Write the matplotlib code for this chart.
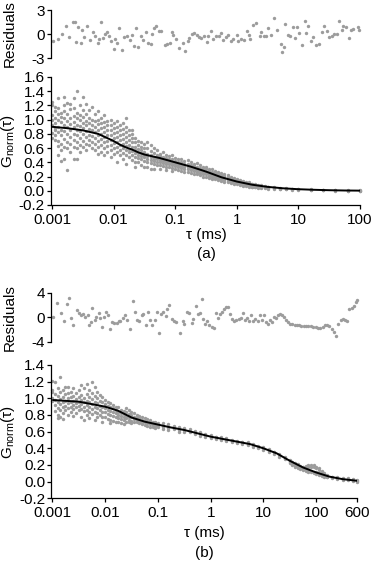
import numpy as np
import matplotlib
matplotlib.use('Agg')
import matplotlib.pyplot as plt

plt.rcParams['font.family'] = ['Liberation Sans', 'DejaVu Sans']
plt.rcParams['mathtext.default'] = 'regular'
plt.rcParams['font.size'] = 11

# ---------------- data: panel (a) ----------------
res_a_logtau = [-2.98, -2.90, -2.83, -2.78, -2.72, -2.66, -2.63, -2.61, -2.57, -2.53,
                -2.51, -2.48, -2.43, -2.38, -2.33, -2.30, -2.26, -2.24, -2.21, -2.18,
                -2.14, -2.10, -2.08, -2.05, -2.00, -1.97, -1.94, -1.92, -1.87, -1.83,
                -1.79, -1.74, -1.70, -1.67, -1.63, -1.60, -1.56, -1.53, -1.48, -1.44,
                -1.40, -1.37, -1.34, -1.31, -1.27, -1.23, -1.17, -1.13, -1.08, -1.05,
                -1.03, -0.98, -0.94, -0.88, -0.84, -0.80, -0.77, -0.73, -0.70, -0.65,
                -0.61, -0.58, -0.54, -0.49, -0.46, -0.42, -0.38, -0.34, -0.29, -0.25,
                -0.22, -0.18, -0.14, -0.10, -0.06, 0.00, 0.02, 0.07, 0.11, 0.16,
                0.19, 0.21, 0.27, 0.31, 0.37, 0.40, 0.44, 0.47, 0.50, 0.56,
                0.60, 0.65, 0.72, 0.74, 0.76, 0.79, 0.83, 0.87, 0.92, 0.94,
                0.97, 1.01, 1.06, 1.10, 1.13, 1.16, 1.20, 1.24, 1.29, 1.33,
                1.38, 1.42, 1.46, 1.50, 1.54, 1.58, 1.63, 1.66, 1.71, 1.73,
                1.78, 1.82, 1.85, 1.89, 1.96, 1.98]
res_a_vals = [-0.83, -0.67, 0.00, 1.04, -0.42, 1.46, 1.46, -0.96, 0.92, -1.08,
              0.46, -0.42, 0.96, -0.75, 0.25, -0.25, -1.10, -0.67, 1.46, -0.54,
              0.00, 0.29, -0.29, -0.88, -1.83, -0.67, -1.08, 0.71, -2.00, -0.38,
              -0.29, -0.75, -0.17, -1.50, 0.71, -1.63, -0.29, -0.75, 0.21, -1.10,
              -1.20, -0.04, 0.79, 1.04, 0.42, 0.38, -1.33, -1.25, -1.08, 0.29,
              -0.13, -0.67, -1.71, -1.17, -2.17, -0.88, -0.46, -0.04, 0.17, -0.17,
              -0.33, -0.54, -0.29, -0.96, -0.29, 0.38, -0.67, -0.25, -0.29, 0.08,
              -0.75, -0.42, -0.13, -0.88, -0.63, -0.08, -0.83, -0.67, -0.75, 0.33,
              -0.17, -0.63, 1.17, 1.33, -0.29, 0.29, -0.29, -0.29, 0.79, -0.13,
              2.04, 0.46, -1.25, -2.25, -1.63, 1.29, -0.17, -0.29, 0.92, -0.46,
              0.92, 0.17, -1.38, 1.63, 0.17, 1.00, -0.83, -0.38, -1.38, -1.25,
              0.21, 1.04, 0.33, -0.33, -0.29, -0.04, 0.04, 1.67, 0.46, 1.04,
              0.92, -0.54, 0.46, 0.63, 0.92, 0.46]

a_obs_logtau = [-3.00, -2.95, -2.90, -2.85, -2.80, -2.75, -2.70, -2.65, -2.60, -2.55,
                -2.50, -2.45, -2.40, -2.35, -2.30, -2.25, -2.20, -2.15, -2.10, -2.05,
                -2.00, -1.95, -1.90, -1.85, -1.80, -1.75, -1.70, -1.65, -1.60, -1.55,
                -1.50, -1.45, -1.40, -1.35, -1.30, -1.25, -1.20, -1.15, -1.10, -1.05,
                -1.00, -0.95, -0.90, -0.85, -0.80, -0.75, -0.70, -0.65, -0.60, -0.55,
                -0.50, -0.45, -0.40, -0.35, -0.30, -0.25, -0.20, -0.15, -0.10, -0.05,
                0.00, 0.05, 0.10, 0.15, 0.20, 0.25, 0.30, 0.35, 0.40, 0.45,
                0.50, 0.60, 0.70, 0.80, 0.90, 1.00, 1.20, 1.40, 1.60, 1.80, 2.00]
a_obs_g = [
    [1.25, 1.21, 1.07, 1.00, 0.93, 0.81, 0.74],
    [1.18, 1.12, 1.02, 0.95, 0.88, 0.86, 0.78, 0.72],
    [1.30, 1.16, 1.08, 0.99, 0.90, 0.83, 0.70, 0.63, 0.51],
    [1.10, 1.04, 0.97, 0.86, 0.79, 0.66, 0.57, 0.42],
    [1.32, 1.20, 1.12, 1.03, 0.92, 0.84, 0.73, 0.62, 0.45],
    [1.24, 1.08, 0.98, 0.90, 0.80, 0.68, 0.60, 0.29],
    [1.22, 1.15, 1.02, 0.94, 0.85, 0.76, 0.66, 0.55],
    [1.30, 1.17, 1.05, 0.97, 0.89, 0.80, 0.71, 0.62, 0.45],
    [1.41, 1.10, 1.02, 0.93, 0.85, 0.78, 0.68, 0.60, 0.44],
    [1.20, 1.07, 0.99, 0.91, 0.84, 0.74, 0.64, 0.55],
    [1.32, 1.13, 1.04, 0.96, 0.88, 0.80, 0.70, 0.62],
    [1.22, 1.08, 0.98, 0.92, 0.84, 0.76, 0.66, 0.58],
    [1.14, 1.03, 0.95, 0.87, 0.79, 0.72, 0.64],
    [1.18, 1.00, 0.93, 0.85, 0.77, 0.69, 0.60],
    [1.08, 0.98, 0.90, 0.82, 0.74, 0.66, 0.57],
    [1.12, 1.00, 0.94, 0.86, 0.78, 0.70, 0.62, 0.52],
    [1.02, 0.95, 0.88, 0.80, 0.73, 0.65, 0.55],
    [1.06, 0.97, 0.90, 0.82, 0.75, 0.68, 0.60, 0.50],
    [0.98, 0.92, 0.85, 0.78, 0.70, 0.63, 0.55],
    [1.00, 0.93, 0.86, 0.79, 0.72, 0.64, 0.57, 0.47],
    [0.96, 0.88, 0.81, 0.74, 0.67, 0.60, 0.52],
    [0.98, 0.90, 0.83, 0.76, 0.69, 0.62, 0.55, 0.40],
    [0.93, 0.86, 0.79, 0.72, 0.65, 0.58, 0.50],
    [0.95, 0.87, 0.80, 0.73, 0.66, 0.60, 0.53, 0.45],
    [1.02, 0.90, 0.83, 0.76, 0.69, 0.63, 0.57, 0.50, 0.38],
    [0.85, 0.78, 0.71, 0.65, 0.59, 0.54, 0.47],
    [0.86, 0.80, 0.74, 0.68, 0.62, 0.56, 0.50, 0.43],
    [0.74, 0.68, 0.62, 0.57, 0.53, 0.48, 0.40, 0.34],
    [0.70, 0.64, 0.59, 0.55, 0.51, 0.46, 0.40],
    [0.68, 0.62, 0.57, 0.53, 0.49, 0.44, 0.36],
    [0.66, 0.60, 0.54, 0.50, 0.47, 0.42, 0.34],
    [0.69, 0.60, 0.52, 0.49, 0.45, 0.41, 0.33],
    [0.64, 0.56, 0.50, 0.47, 0.43, 0.39, 0.31],
    [0.60, 0.53, 0.48, 0.45, 0.42, 0.37, 0.30],
    [0.57, 0.51, 0.47, 0.44, 0.41, 0.36],
    [0.52, 0.49, 0.45, 0.43, 0.40, 0.36, 0.30],
    [0.54, 0.48, 0.44, 0.42, 0.39, 0.35],
    [0.50, 0.46, 0.43, 0.41, 0.38, 0.34, 0.29],
    [0.49, 0.45, 0.42, 0.40, 0.37, 0.33],
    [0.50, 0.44, 0.41, 0.39, 0.36, 0.32, 0.28],
    [0.46, 0.42, 0.40, 0.37, 0.35, 0.31],
    [0.44, 0.41, 0.38, 0.36, 0.33, 0.29],
    [0.45, 0.40, 0.37, 0.35, 0.32, 0.28],
    [0.42, 0.38, 0.36, 0.34, 0.31, 0.27],
    [0.43, 0.38, 0.35, 0.33, 0.30, 0.26],
    [0.40, 0.36, 0.34, 0.32, 0.29, 0.25],
    [0.38, 0.35, 0.33, 0.30, 0.28, 0.24],
    [0.39, 0.34, 0.31, 0.29, 0.27, 0.23],
    [0.36, 0.32, 0.30, 0.28, 0.25, 0.22],
    [0.34, 0.31, 0.29, 0.26, 0.24, 0.20],
    [0.33, 0.30, 0.27, 0.25, 0.23, 0.19],
    [0.31, 0.28, 0.26, 0.24, 0.21, 0.18],
    [0.30, 0.27, 0.25, 0.22, 0.20, 0.17],
    [0.28, 0.25, 0.23, 0.21, 0.19, 0.16],
    [0.27, 0.24, 0.22, 0.20, 0.18, 0.15],
    [0.25, 0.22, 0.20, 0.19, 0.17, 0.14],
    [0.23, 0.21, 0.19, 0.17, 0.15, 0.13],
    [0.22, 0.19, 0.17, 0.16, 0.14, 0.12],
    [0.20, 0.18, 0.16, 0.15, 0.13, 0.11],
    [0.18, 0.16, 0.15, 0.14, 0.12, 0.10],
    [0.17, 0.15, 0.14, 0.13, 0.11, 0.09],
    [0.15, 0.14, 0.12, 0.11, 0.10, 0.08],
    [0.14, 0.12, 0.11, 0.10, 0.09, 0.07],
    [0.13, 0.11, 0.10, 0.09, 0.08, 0.07],
    [0.12, 0.10, 0.09, 0.08, 0.07, 0.06],
    [0.10, 0.09, 0.08, 0.07, 0.06, 0.05],
    [0.09, 0.08, 0.07, 0.07, 0.06, 0.05],
    [0.08, 0.07, 0.07, 0.06, 0.05, 0.04],
    [0.08, 0.07, 0.06, 0.05, 0.05, 0.04],
    [0.07, 0.06, 0.05, 0.05, 0.04],
    [0.06, 0.05, 0.05, 0.04, 0.03],
    [0.05, 0.04, 0.03],
    [0.04, 0.03, 0.02],
    [0.035, 0.03, 0.02],
    [0.03, 0.02, 0.015],
    [0.03, 0.02, 0.01],
    [0.02, 0.015, 0.01],
    [0.015, 0.01, 0.005],
    [0.01, 0.005, 0.0],
    [0.01, 0.0, -0.005],
    [0.005, 0.0, -0.005],
]

fit_a_logtau = [-3.0, -2.75, -2.5, -2.25, -2.0, -1.9, -1.8, -1.7, -1.6, -1.5, -1.4, -1.25,
                -1.0, -0.75, -0.5, -0.25, 0.0, 0.25, 0.5, 0.75, 1.0, 1.25, 1.5, 1.75, 2.0]
fit_a_g = [0.90, 0.88, 0.85, 0.80, 0.70, 0.65, 0.61, 0.58, 0.54, 0.51, 0.49, 0.46,
           0.40, 0.34, 0.27, 0.19, 0.13, 0.085, 0.055, 0.035, 0.022, 0.014, 0.008, 0.004, 0.002]

# ---------------- data: panel (b) ----------------
res_b_logtau = [-2.98, -2.91, -2.84, -2.78, -2.73, -2.68, -2.65, -2.61, -2.54, -2.50,
                -2.46, -2.42, -2.38, -2.33, -2.30, -2.27, -2.24, -2.20, -2.17, -2.12,
                -2.10, -2.06, -2.02, -1.98, -1.95, -1.90, -1.86, -1.83, -1.78, -1.74,
                -1.71, -1.67, -1.63, -1.59, -1.53, -1.48, -1.43, -1.40, -1.35, -1.31,
                -1.28, -1.23, -1.19, -1.15, -1.11, -1.06, -1.01, -0.97, -0.94, -0.90,
                -0.85, -0.82, -0.78, -0.74, -0.70, -0.65, -0.58, -0.53, -0.51, -0.44,
                -0.41, -0.36, -0.33, -0.28, -0.24, -0.20, -0.17, -0.14, -0.10, -0.06,
                -0.03, 0.02, 0.07, 0.10, 0.14, 0.18, 0.21, 0.25, 0.29, 0.33,
                0.36, 0.41, 0.45, 0.48, 0.53, 0.57, 0.61, 0.65, 0.69, 0.73,
                0.77, 0.81, 0.84, 0.89, 0.93, 0.97, 1.01, 1.05, 1.08, 1.12,
                1.16, 1.20, 1.24, 1.27, 1.31, 1.35, 1.39, 1.43, 1.46, 1.50,
                1.55, 1.59, 1.63, 1.68, 1.72, 1.77, 1.81, 1.85, 1.90, 1.94,
                1.99, 2.03, 2.08, 2.12, 2.16, 2.21, 2.25, 2.30, 2.33, 2.37,
                2.42, 2.46, 2.50, 2.54, 2.58, 2.63, 2.67, 2.71, 2.75, 2.78]
res_b_vals = [0.10, 2.30, 0.65, -0.70, 2.10, 3.15, -0.10, -1.35, 1.10, 0.65,
              0.40, 0.50, 0.10, 0.30, -1.35, -0.80, 1.45, -0.40, 0.10, 0.75,
              -0.15, -1.65, 0.10, 0.80, 0.30, -1.90, -0.80, -0.90, -0.90, -0.70,
              -0.65, -0.15, 0.35, -0.40, -2.00, 2.60, 0.90, -0.40, -0.65, 0.40,
              0.50, -1.25, 0.90, -0.40, -1.35, -0.45, 0.90, -2.55, 0.45, 0.80,
              0.15, 1.35, 2.00, -0.25, -0.55, -0.80, -2.55, -0.55, -1.05, 0.90,
              0.70, -1.00, -0.25, 1.80, 0.45, 0.70, 3.05, -0.25, -1.10, -0.70,
              -1.35, -1.65, -1.80, 0.70, -0.15, 0.45, 0.90, 1.35, 1.65, 1.65,
              0.55, -0.25, -0.55, -0.40, -0.25, -0.15, 0.70, -0.40, -0.15, -0.70,
              0.30, -0.70, -0.25, -0.55, 0.30, -0.40, 0.40, -0.80, -1.10, -0.40,
              -0.80, 0.00, -0.15, 0.40, 0.55, 0.30, 0.00, -0.40, -0.80, -1.10,
              -1.15, -1.25, -1.35, -1.35, -1.45, -1.45, -1.45, -1.45, -1.45, -1.60,
              -1.60, -1.70, -1.80, -1.65, -1.25, -1.35, -1.45, -1.90, -2.45, -3.00,
              -1.10, -0.40, -0.25, -0.40, -0.70, 1.35, 1.50, 1.90, 2.45, 2.80]

b_obs_logtau = [-3.00, -2.95, -2.90, -2.85, -2.80, -2.75, -2.70, -2.65, -2.60, -2.55,
                -2.50, -2.45, -2.40, -2.35, -2.30, -2.25, -2.20, -2.15, -2.10, -2.05,
                -2.00, -1.95, -1.90, -1.85, -1.80, -1.75, -1.70, -1.65, -1.60, -1.55,
                -1.50, -1.45, -1.40, -1.35, -1.30, -1.25, -1.20, -1.15, -1.10, -1.05,
                -1.00, -0.90, -0.80, -0.70, -0.60, -0.50, -0.40, -0.30, -0.20, -0.10,
                0.00, 0.10, 0.20, 0.30, 0.40, 0.50, 0.60, 0.70, 0.80, 0.90,
                1.00, 1.10, 1.20, 1.30, 1.40, 1.50, 1.55, 1.60, 1.65, 1.70,
                1.75, 1.80, 1.85, 1.90, 1.95, 2.00, 2.05, 2.10, 2.15, 2.20,
                2.30, 2.40, 2.50, 2.60, 2.70, 2.78]
b_obs_g = [
    [1.21, 1.10, 1.08, 1.00, 0.97],
    [1.20, 1.05, 0.98, 0.92, 0.85],
    [1.12, 1.03, 0.95, 0.88, 0.80, 0.76],
    [1.26, 1.08, 0.99, 0.93, 0.86, 0.78],
    [1.10, 1.02, 0.96, 0.90, 0.82, 0.75],
    [1.13, 1.05, 0.97, 0.91, 0.86],
    [1.14, 1.06, 1.00, 0.94, 0.88, 0.80],
    [1.08, 1.01, 0.95, 0.90, 0.84],
    [1.12, 1.03, 0.97, 0.92, 0.87, 0.79],
    [1.06, 0.99, 0.94, 0.89, 0.82],
    [1.10, 1.02, 0.96, 0.91, 0.86],
    [1.16, 1.04, 0.98, 0.93, 0.87, 0.78],
    [1.12, 1.00, 0.95, 0.90, 0.85, 0.74],
    [1.17, 1.05, 0.97, 0.92, 0.86, 0.80],
    [1.10, 1.02, 0.96, 0.90, 0.84, 0.76],
    [1.20, 1.06, 0.99, 0.93, 0.87, 0.81],
    [1.14, 1.03, 0.96, 0.90, 0.84, 0.74],
    [1.08, 1.00, 0.94, 0.88, 0.82, 0.77],
    [1.04, 0.97, 0.91, 0.86, 0.80],
    [1.02, 0.95, 0.90, 0.84, 0.78, 0.72],
    [0.98, 0.93, 0.88, 0.83, 0.77],
    [0.96, 0.91, 0.86, 0.81, 0.75],
    [0.94, 0.89, 0.85, 0.80, 0.74, 0.70],
    [0.92, 0.88, 0.83, 0.79, 0.73],
    [0.90, 0.86, 0.82, 0.78, 0.72],
    [0.89, 0.84, 0.80, 0.76, 0.71],
    [0.86, 0.82, 0.79, 0.75, 0.70],
    [0.85, 0.81, 0.77, 0.74, 0.69],
    [0.88, 0.83, 0.79, 0.76, 0.72],
    [0.86, 0.81, 0.77, 0.74, 0.71],
    [0.84, 0.80, 0.77, 0.73, 0.70],
    [0.82, 0.78, 0.75, 0.72],
    [0.80, 0.77, 0.74, 0.71],
    [0.79, 0.76, 0.73, 0.70],
    [0.77, 0.74, 0.72, 0.69],
    [0.76, 0.73, 0.71, 0.68],
    [0.75, 0.72, 0.70, 0.67],
    [0.74, 0.71, 0.69, 0.66],
    [0.72, 0.70, 0.68, 0.65],
    [0.71, 0.69, 0.67, 0.64],
    [0.70, 0.68, 0.66],
    [0.70, 0.67, 0.65, 0.63],
    [0.69, 0.66, 0.64, 0.62],
    [0.67, 0.65, 0.63],
    [0.66, 0.64, 0.62, 0.60],
    [0.64, 0.62, 0.60],
    [0.63, 0.61, 0.59],
    [0.61, 0.59, 0.57],
    [0.59, 0.57, 0.55],
    [0.57, 0.55, 0.54],
    [0.56, 0.54, 0.52],
    [0.54, 0.53, 0.51],
    [0.53, 0.51, 0.50],
    [0.52, 0.50, 0.49],
    [0.50, 0.49, 0.47],
    [0.49, 0.48, 0.46],
    [0.48, 0.47, 0.45],
    [0.47, 0.45, 0.44],
    [0.45, 0.43, 0.42],
    [0.43, 0.41, 0.40],
    [0.41, 0.40, 0.38],
    [0.39, 0.37, 0.36],
    [0.36, 0.35, 0.33],
    [0.33, 0.32, 0.30],
    [0.30, 0.28, 0.27],
    [0.26, 0.25, 0.23, 0.22],
    [0.24, 0.23, 0.21, 0.20],
    [0.22, 0.21, 0.19, 0.18],
    [0.21, 0.19, 0.17, 0.16],
    [0.19, 0.18, 0.16, 0.15],
    [0.18, 0.17, 0.15, 0.14],
    [0.19, 0.17, 0.15, 0.13],
    [0.20, 0.18, 0.14, 0.12],
    [0.20, 0.18, 0.13, 0.11],
    [0.20, 0.17, 0.12, 0.10],
    [0.18, 0.16, 0.11, 0.09],
    [0.16, 0.14, 0.10, 0.08],
    [0.13, 0.11, 0.08, 0.07],
    [0.10, 0.08, 0.07, 0.06],
    [0.08, 0.07, 0.06, 0.05],
    [0.06, 0.05, 0.04],
    [0.05, 0.04, 0.03],
    [0.04, 0.03, 0.02],
    [0.04, 0.03, 0.02],
    [0.03, 0.02, 0.01],
    [0.02, 0.01, 0.00],
]

fit_b_logtau = [-3.0, -2.5, -2.0, -1.75, -1.5, -1.25, -1.0, -0.75, -0.5, -0.25, 0.0,
                0.25, 0.5, 0.75, 1.0, 1.25, 1.5, 1.75, 2.0, 2.25, 2.5, 2.78]
fit_b_g = [0.98, 0.96, 0.90, 0.85, 0.77, 0.72, 0.685, 0.65, 0.62, 0.58, 0.54,
           0.51, 0.48, 0.45, 0.40, 0.34, 0.25, 0.17, 0.11, 0.06, 0.03, 0.01]

assert len(res_a_logtau) == len(res_a_vals)
assert len(res_b_logtau) == len(res_b_vals)
assert len(a_obs_logtau) == len(a_obs_g)
assert len(b_obs_logtau) == len(b_obs_g)
assert len(fit_a_logtau) == len(fit_a_g)
assert len(fit_b_logtau) == len(fit_b_g)

a_xticks = [0.001, 0.01, 0.1, 1, 10, 100]
a_xticklabels = ['0.001', '0.01', '0.1', '1', '10', '100']
b_xticks = [0.001, 0.01, 0.1, 1, 10, 100, 600]
b_xticklabels = ['0.001', '0.01', '0.1', '1', '10', '100', '600']
a_yticks = [-0.2, 0.0, 0.2, 0.4, 0.6, 0.8, 1.0, 1.2, 1.4, 1.6]
b_yticks = [-0.2, 0.0, 0.2, 0.4, 0.6, 0.8, 1.0, 1.2, 1.4]
a_res_ticks = [-3, 0, 3]
b_res_ticks = [-4, 0, 4]

GREY = '#9c9c9c'
W, H = 372, 565
fig = plt.figure(figsize=(W / 100, H / 100), dpi=100)


def add_axes(x0, x1, ytop, ybot):
    return fig.add_axes([x0 / W, 1 - ybot / H, (x1 - x0) / W, (ybot - ytop) / H])


def flatten(logs, cols):
    xs, ys = [], []
    for lt, col in zip(logs, cols):
        xs += [10 ** lt] * len(col)
        ys += col
    return xs, ys


def style(ax, residual=False):
    ax.spines['top'].set_visible(False)
    ax.spines['right'].set_visible(False)
    for s in ax.spines.values():
        s.set_linewidth(0.9)
    ax.tick_params(length=2.6, width=0.9, pad=1.5, labelsize=11, colors='black')
    ax.minorticks_off()
    if residual:
        ax.spines['bottom'].set_visible(False)
        ax.set_xticks([])
    ax.spines['left'].set_position(('outward', 1))


def fmt(v):
    return '%.1f' % v


def panel(res_box, main_box, res_log, res_vals, res_ticks, obs_log, obs_g,
          fit_log, fit_g, xlim, xticks, xticklabels, yticks, lab_y, tag_y, tag):
    # residuals
    axr = add_axes(*res_box)
    axr.scatter(10 ** np.array(res_log), res_vals, s=6, color=GREY, linewidths=0, clip_on=False)
    axr.set_xscale('log')
    axr.set_xlim(*xlim)
    axr.set_ylim(res_ticks[0], res_ticks[-1])
    style(axr, residual=True)
    axr.set_yticks(res_ticks)
    axr.set_yticklabels([str(t) for t in res_ticks])
    axr.set_ylabel('Residuals', fontsize=11)
    axr.yaxis.set_label_coords((17 - res_box[0]) / (res_box[1] - res_box[0]), 0.5)

    ax = add_axes(*main_box)
    xs, ys = flatten(obs_log, obs_g)
    ax.scatter(xs, ys, s=6, color=GREY, linewidths=0, clip_on=False, zorder=2)
    ax.plot(10 ** np.array(fit_log), fit_g, color='black', lw=1.4, zorder=3,
            solid_capstyle='butt')
    ax.set_xscale('log')
    ax.set_xlim(*xlim)
    ax.set_ylim(yticks[0], yticks[-1])
    style(ax)
    ax.set_xticks(xticks)
    ax.set_xticklabels(xticklabels)
    ax.set_yticks(yticks)
    ax.set_yticklabels([fmt(v) for v in yticks])
    ax.tick_params(axis='x', pad=3)
    ax.set_ylabel('G$_{norm}$(τ)', fontsize=11)
    ax.yaxis.set_label_coords((17 - main_box[0]) / (main_box[1] - main_box[0]), 0.5)
    cx = (main_box[0] + main_box[1]) / 2 / W
    fig.text(cx, 1 - lab_y / H, 'τ (ms)', ha='center', va='center', fontsize=11)
    fig.text(cx, 1 - tag_y / H, tag, ha='center', va='center', fontsize=11)


panel((52, 360, 10, 58), (52, 360, 77, 205), res_a_logtau, res_a_vals, a_res_ticks,
      a_obs_logtau, a_obs_g, fit_a_logtau, fit_a_g, (0.001, 100), a_xticks, a_xticklabels,
      a_yticks, 235, 254, '(a)')
panel((52.3, 357.3, 292.7, 341.7), (52.3, 357.3, 365, 498.3), res_b_logtau, res_b_vals,
      b_res_ticks, b_obs_logtau, b_obs_g, fit_b_logtau, fit_b_g, (0.001, 600), b_xticks,
      b_xticklabels, b_yticks, 533, 553, '(b)')

fig.savefig('out.png', dpi=100, facecolor='white')
